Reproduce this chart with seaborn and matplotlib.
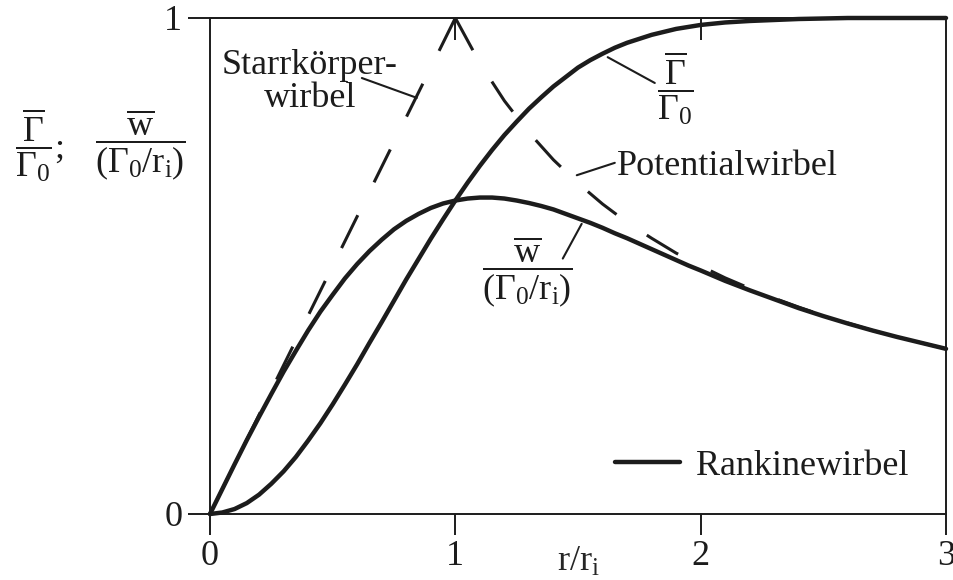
"""
Rankine / Oseen vortex: circulation and circumferential velocity over radius.
Saves out.png (954x580).
"""

import matplotlib

matplotlib.use("Agg")
import matplotlib.pyplot as plt
import pandas as pd
import seaborn as sns

# values
r_vals = [0.0, 0.05, 0.1, 0.15, 0.2, 0.25, 0.3, 0.35, 0.4, 0.45, 0.5,
          0.55, 0.6, 0.65, 0.7, 0.75, 0.8, 0.85, 0.9, 0.95, 1.0,
          1.05, 1.1, 1.15, 1.2, 1.25, 1.3, 1.35, 1.4, 1.45, 1.5,
          1.55, 1.6, 1.65, 1.7, 1.75, 1.8, 1.85, 1.9, 1.95, 2.0,
          2.1, 2.2, 2.3, 2.4, 2.5, 2.6, 2.7, 2.8, 2.9, 3.0]
gamma_vals = [0.0, 0.003, 0.010, 0.022, 0.039, 0.061, 0.086, 0.115, 0.148, 0.183, 0.221,
              0.261, 0.302, 0.345, 0.387, 0.430, 0.473, 0.514, 0.555, 0.594, 0.632,
              0.668, 0.702, 0.734, 0.764, 0.791, 0.817, 0.840, 0.862, 0.881, 0.900,
              0.915, 0.928, 0.940, 0.950, 0.958, 0.966, 0.972, 0.978, 0.982, 0.986,
              0.991, 0.994, 0.996, 0.998, 0.999, 1.0, 1.0, 1.0, 1.0, 1.0]
w_vals = [0.0, 0.050, 0.100, 0.149, 0.196, 0.242, 0.287, 0.329, 0.370, 0.408, 0.442,
          0.475, 0.504, 0.530, 0.553, 0.574, 0.591, 0.605, 0.617, 0.626, 0.632,
          0.636, 0.638, 0.638, 0.636, 0.632, 0.627, 0.621, 0.614, 0.605, 0.596,
          0.587, 0.577, 0.566, 0.556, 0.545, 0.534, 0.523, 0.512, 0.501, 0.491,
          0.470, 0.451, 0.433, 0.415, 0.399, 0.384, 0.370, 0.357, 0.345, 0.333]

# ideal vortices (dashed), both start at the apex r/ri = 1
rigid_r = [1.0, 0.0]
rigid_w = [1.0, 0.0]
pot_r = [1.0, 1.1, 1.2, 1.3, 1.4, 1.5, 1.6, 1.7, 1.8, 1.9, 2.0,
         2.1, 2.2, 2.3, 2.4, 2.5, 2.6, 2.7, 2.8, 2.9, 3.0]
pot_w = [1.0, 0.909, 0.833, 0.769, 0.714, 0.667, 0.625, 0.588, 0.556, 0.526, 0.500,
         0.476, 0.455, 0.435, 0.417, 0.400, 0.385, 0.370, 0.357, 0.345, 0.333]

x_ticks = [0, 1, 2, 3]
y_ticks = [0, 1]
top_ticks = [1, 2]

INK = "#1c1c1c"
FS = 26


def setup_plotting():
    sns.set_theme(style="ticks")
    plt.rcParams["font.family"] = ["Liberation Serif", "DejaVu Serif"]
    plt.rcParams["mathtext.fontset"] = "custom"
    plt.rcParams["mathtext.rm"] = "Liberation Serif"
    plt.rcParams["mathtext.it"] = "Liberation Serif"
    plt.rcParams["mathtext.bf"] = "Liberation Serif:bold"
    plt.rcParams["axes.edgecolor"] = INK
    plt.rcParams["axes.linewidth"] = 1.4
    plt.rcParams["text.color"] = INK
    plt.rcParams["xtick.color"] = INK
    plt.rcParams["ytick.color"] = INK


def main():
    setup_plotting()

    curves = pd.DataFrame({"r": r_vals, "gamma": gamma_vals, "w": w_vals})
    rigid = pd.DataFrame({"r": rigid_r, "w": rigid_w})
    pot = pd.DataFrame({"r": pot_r, "w": pot_w})

    fig = plt.figure(figsize=(9.54, 5.80), dpi=100)
    ax = fig.add_axes([210 / 954, 66 / 580, 736 / 954, 496 / 580])

    # dashed ideal vortices underneath
    dash = dict(color=INK, lw=2.2, linestyle=(0, (12, 12)), estimator=None,
                sort=False, ax=ax, zorder=2, clip_on=False)
    sns.lineplot(data=rigid, x="r", y="w", **dash)
    sns.lineplot(data=pot, x="r", y="w", **dash)

    solid = dict(color=INK, lw=3.2, estimator=None, sort=False, ax=ax,
                 zorder=3, clip_on=False)
    sns.lineplot(data=curves, x="r", y="gamma", **solid)
    sns.lineplot(data=curves, x="r", y="w", **solid)
    rankine_line = ax.lines[-1]

    ax.set_xlim(0, 3)
    ax.set_ylim(0, 1)
    ax.set_xticks(x_ticks)
    ax.set_yticks(y_ticks)
    ax.tick_params(axis="x", direction="out", length=15, width=1.4, pad=4, labelsize=FS)
    ax.tick_params(axis="y", direction="out", length=16, width=1.4, pad=4, labelsize=FS)
    for s in ax.spines.values():
        s.set_visible(True)

    top = ax.secondary_xaxis("top")
    top.set_xticks(top_ticks)
    top.tick_params(direction="in", length=16, width=1.4, labeltop=False)

    ax.set_ylabel("")
    ax.set_xlabel(r"$\mathrm{r/r_i}$", fontsize=FS)
    ax.xaxis.set_label_coords(0.5, -0.064)

    # y axis quantity, placed top left
    fig.text(15 / 954, 0.75, r"$\dfrac{\overline{\Gamma}}{\Gamma_0}$;",
             fontsize=FS, ha="left", va="center")
    fig.text(140 / 954, 0.75,
             r"$\dfrac{\overline{\mathrm{w}}}{(\Gamma_0/\mathrm{r_i})}$",
             fontsize=FS, ha="center", va="center")

    # curve labels and leader lines
    lead = dict(arrowstyle="-", color=INK, lw=1.5, shrinkA=0, shrinkB=0)
    ax.text(0.407, 0.821, "Starrkörper-\nwirbel", fontsize=FS, ha="center",
            va="baseline", multialignment="center", linespacing=1.0)
    ax.annotate("", xy=(0.843, 0.839), xytext=(0.619, 0.879), arrowprops=lead)

    ax.text(1.898, 0.859, r"$\dfrac{\overline{\Gamma}}{\Gamma_0}$", fontsize=FS,
            ha="center", va="center")
    ax.annotate("", xy=(1.621, 0.921), xytext=(1.813, 0.869), arrowprops=lead)

    ax.text(1.658, 0.683, "Potentialwirbel", fontsize=FS, ha="left", va="baseline")
    ax.annotate("", xy=(1.495, 0.683), xytext=(1.650, 0.708), arrowprops=lead)

    ax.text(1.295, 0.488, r"$\dfrac{\overline{\mathrm{w}}}{(\Gamma_0/\mathrm{r_i})}$",
            fontsize=FS, ha="center", va="center")
    ax.annotate("", xy=(1.515, 0.585), xytext=(1.438, 0.515), arrowprops=lead)

    ax.legend(handles=[rankine_line], labels=["Rankinewirbel"], loc="center left",
              bbox_to_anchor=(0.550, 0.097), frameon=False, fontsize=FS,
              borderpad=0, borderaxespad=0, handlelength=1.8, handletextpad=0.45)

    fig.savefig("out.png", dpi=100)
    plt.close(fig)


if __name__ == "__main__":
    main()
